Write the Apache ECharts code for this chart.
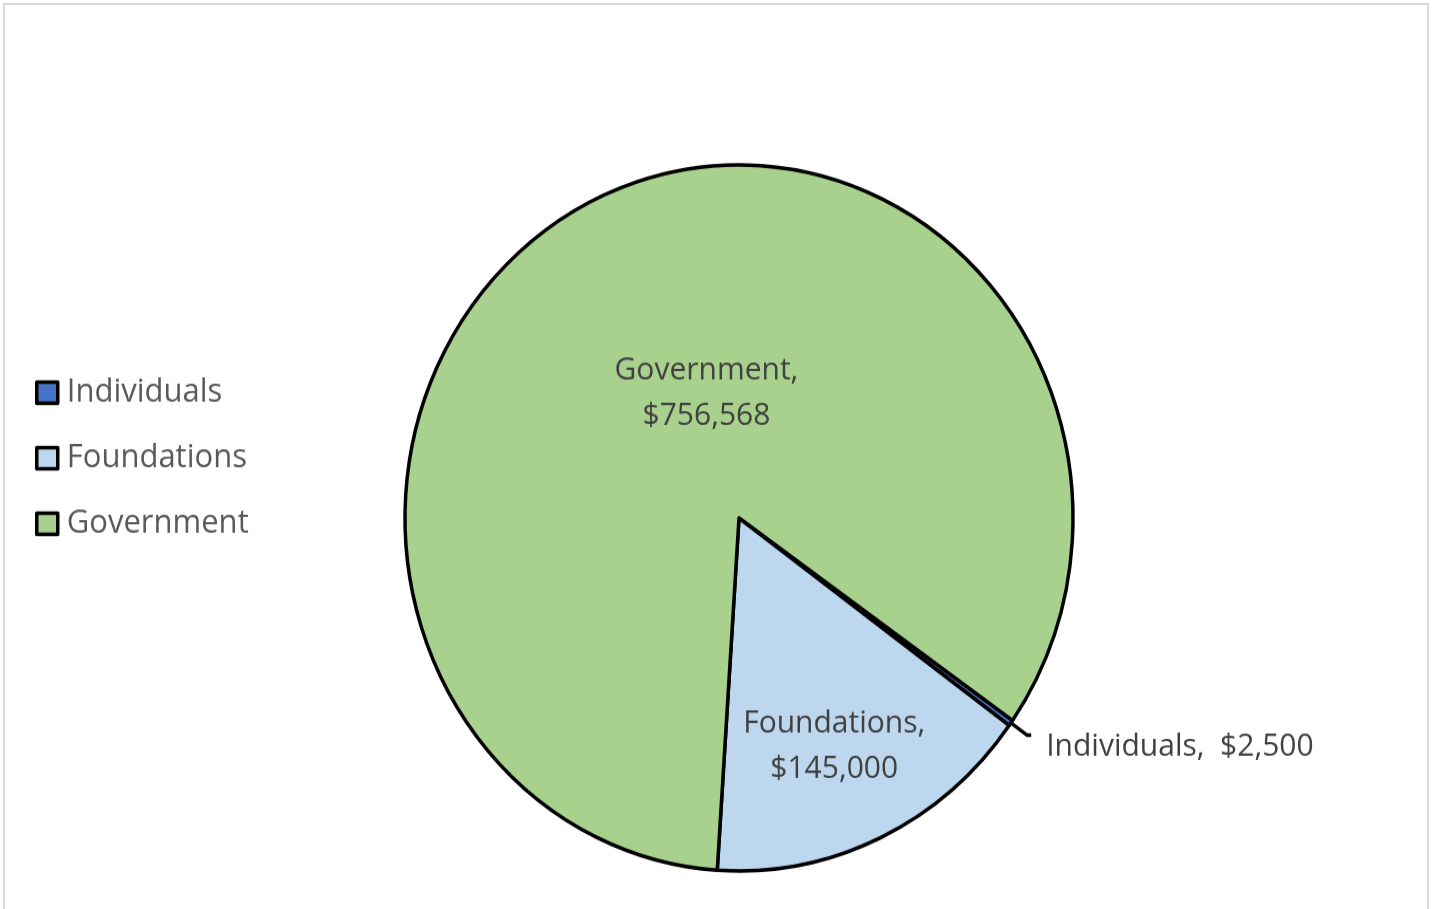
<!DOCTYPE html>
<html>
<head>
<meta charset="utf-8">
<script src="https://cdn.jsdelivr.net/npm/echarts@6/dist/echarts.min.js"></script>
<style>
  html, body { margin: 0; padding: 0; background: #fff; overflow: hidden; }
  #frame { position: absolute; left: 3px; top: 3px; width: 1426px; height: 1000px; border: 2px solid #d9d9d9; box-sizing: border-box; }
  /* the reference is stretched a little vertically, so the pie is an ellipse */
  #chart { position: absolute; left: 0; top: 0; width: 1437px; height: 860px; transform: scaleY(1.057); transform-origin: 0 0; }
</style>
</head>
<body>
<div id="frame"></div>
<div id="chart"></div>
<script>
// Funding sources (slice order = legend order, drawn clockwise)
const categories = ["Individuals", "Foundations", "Government"];
const amounts = [2500, 145000, 756568];
const colors = ["#4472c4", "#bdd7ee", "#a9d18e"];

const FONT = "'Open Sans', sans-serif";
const money = (v) => "$" + v.toLocaleString("en-US");

// per-slice label placement
const labelOpts = {
  Individuals: {
    position: "outside",
    formatter: (p) => `${p.name},  ${money(p.value)}`,
    padding: [0, 0, 0, 10],
  },
  Foundations: {
    position: "inside",
    offset: [23, 62],
    formatter: (p) => `${p.name},\n${money(p.value)}`,
  },
  Government: {
    position: "inside",
    offset: [41, 35],
    formatter: (p) => `${p.name},\n${money(p.value)}`,
  },
};

const chart = echarts.init(document.getElementById("chart"));
chart.setOption({
  animation: false,
  legend: {
    orient: "vertical",
    left: 30,
    top: 351,
    icon: "rect",
    itemWidth: 21,
    itemHeight: 20,
    itemGap: 31,
    itemStyle: { borderColor: "#000", borderWidth: 3.5 },
    textStyle: { fontFamily: FONT, fontSize: 31, color: "#595959", lineHeight: 30, padding: [0, 0, 0, 4] },
    data: categories,
  },
  series: [
    {
      type: "pie",
      center: [739, 490],
      radius: [0, 334],
      startAngle: 325,
      clockwise: true,
      avoidLabelOverlap: false,
      itemStyle: { borderColor: "#000", borderWidth: 3.5 },
      label: {
        fontFamily: FONT,
        fontSize: 30,
        lineHeight: 43,
        color: "#404040",
      },
      labelLine: {
        show: true,
        length: 20,
        length2: 4,
        lineStyle: { color: "#000", width: 3.5 },
      },
      // the small outside label sits a little below its leader line
      labelLayout: (p) => (p.dataIndex === 0 ? { dy: 11 } : {}),
      emphasis: { disabled: true },
      data: categories.map((name, i) => ({
        name,
        value: amounts[i],
        itemStyle: { color: colors[i] },
        label: labelOpts[name],
        labelLine: { show: name === "Individuals" },
      })),
    },
  ],
});
</script>
</body>
</html>
